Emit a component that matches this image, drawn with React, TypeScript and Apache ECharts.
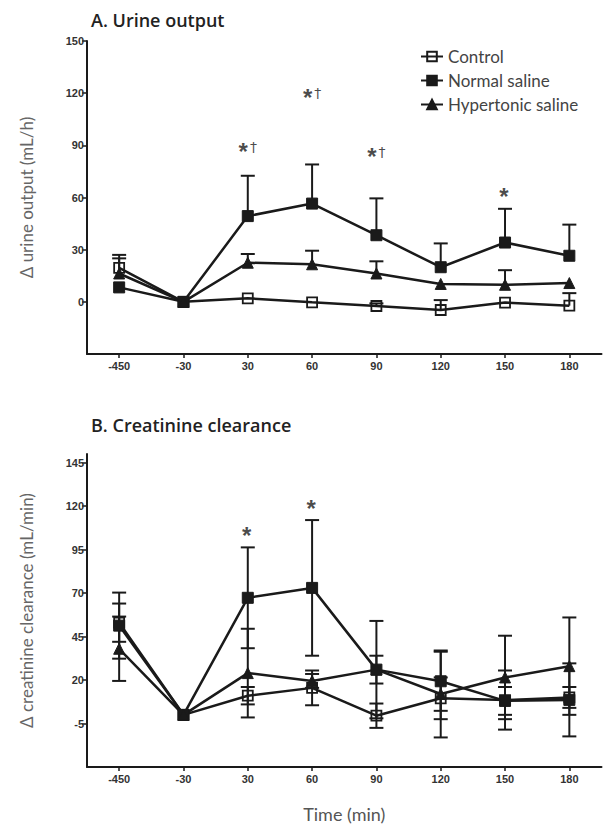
import React, { useEffect, useRef } from "react";
import * as echarts from "echarts";

const categories = ["-450", "-30", "30", "60", "90", "120", "150", "180"];

// A. Urine output (mean, upper error)
const urineControl = [19.5, 0, 2.0, -0.3, -2.4, -4.7, -0.4, -2.2];
const urineControlErr = [5.5, 0, 0, 0, 1.5, 5.7, 0, 7.2];
const urineNormal = [8.3, 0, 49.3, 56.5, 38.3, 19.9, 34.1, 26.5];
const urineNormalErr = [0, 0, 23.2, 22.5, 21.2, 13.7, 19.4, 17.9];
const urineHyper = [16.3, 0, 22.5, 21.6, 16.3, 10.3, 9.8, 10.8];
const urineHyperErr = [10.7, 0, 5.0, 7.8, 7.0, 0, 8.4, 0];

// B. Creatinine clearance (mean ± SD)
const ccControl = [53, 0, 11, 15.5, -0.5, 9.5, 8.5, 10];
const ccControlSd = [11, 0, 5, 10, 7, 12, 17, 6];
const ccNormal = [51.3, 0, 67.3, 73, 26, 19.3, 8, 8.6];
const ccNormalSd = [19, 0, 29, 39, 28, 17, 8, 21];
const ccHyper = [38, 0, 24, 19.5, 26, 12, 21.5, 28];
const ccHyperSd = [18.5, 0, 25.5, 4, 8, 25, 24, 28];

// significance annotations
const urineAnnotIdx = [2, 3, 4, 6];
const urineAnnotY = [89, 120, 86, 63];
const urineAnnotText = ["{s|*}{d|†}", "{s|*}{d|†}", "{s|*}{d|†}", "{s|*}"];
const ccAnnotIdx = [2, 3];
const ccAnnotY = [106, 121];
const ccAnnotText = ["{s|*}", "{s|*}"];

const urineTicks = [0, 30, 60, 90, 120, 150];
const ccTicks = [-5, 20, 45, 70, 95, 120, 145];

const INK = "#1a1a1a";

function errSeries(axisIdx: number, lo: number[], hi: number[], twoSided: boolean) {
  const data = categories.map((_, i) => [i, lo[i], hi[i]]);
  return {
    type: "custom",
    xAxisIndex: axisIdx,
    yAxisIndex: axisIdx,
    z: 2,
    silent: true,
    color: INK,
    renderItem: (params: any, api: any) => {
      const i = api.value(0);
      const l = api.value(1);
      const h = api.value(2);
      if (h - l < 0.01) return { type: "group", children: [] };
      const pHi = api.coord([i, h]);
      const pLo = api.coord([i, l]);
      const hw = 7;
      const st = { stroke: INK, lineWidth: 2 };
      const children: any[] = [
        { type: "line", shape: { x1: pHi[0], y1: pHi[1], x2: pLo[0], y2: pLo[1] }, style: st },
        { type: "line", shape: { x1: pHi[0] - hw, y1: pHi[1], x2: pHi[0] + hw, y2: pHi[1] }, style: st },
      ];
      if (twoSided) {
        children.push({ type: "line", shape: { x1: pLo[0] - hw, y1: pLo[1], x2: pLo[0] + hw, y2: pLo[1] }, style: st });
      }
      return { type: "group", children };
    },
    data,
  };
}

function lineSeries(name: string, axisIdx: number, values: number[], kind: "open" | "filled" | "tri") {
  const symbol = kind === "tri" ? "triangle" : "rect";
  const size = kind === "tri" ? 11 : kind === "filled" ? 11 : 10;
  return {
    type: "line",
    name,
    xAxisIndex: axisIdx,
    yAxisIndex: axisIdx,
    z: 3,
    color: INK,
    data: values,
    symbol,
    symbolSize: size,
    showAllSymbol: true,
    lineStyle: { color: INK, width: 2.5 },
    itemStyle:
      kind === "open"
        ? { color: "rgba(255,255,255,0)", borderColor: INK, borderWidth: 1.8 }
        : { color: INK, borderColor: INK, borderWidth: 1 },
  };
}

function annotSeries(axisIdx: number, idx: number[], ys: number[], texts: string[]) {
  return {
    type: "scatter",
    xAxisIndex: axisIdx,
    yAxisIndex: axisIdx,
    symbolSize: 1,
    itemStyle: { color: "rgba(0,0,0,0)" },
    silent: true,
    data: idx.map((i, k) => ({ value: [i, ys[k]], label: { formatter: texts[k] } })),
    label: {
      show: true,
      position: "inside",
      rich: {
        s: { fontSize: 24, fontWeight: "bold", color: INK, fontFamily: "Liberation Sans", padding: [9, 2, 0, 0] },
        d: { fontSize: 14, color: INK, fontFamily: "DejaVu Sans" },
      },
    },
  };
}

const axisLabelStyle = {
  fontFamily: "Liberation Sans",
  fontWeight: "bold",
  fontSize: 11,
  color: "#333",
};

export default function App() {
  const ref = useRef<HTMLDivElement>(null);
  useEffect(() => {
    if (!ref.current) return;
    const chart = echarts.init(ref.current, null, { renderer: "svg" });
    const xAxisBase = {
      type: "category",
      data: categories,
      boundaryGap: true,
      axisLine: { onZero: false, lineStyle: { color: INK, width: 2 } },
      axisTick: { show: true, alignWithLabel: true, length: 4, lineStyle: { color: INK, width: 1.5 } },
      axisLabel: { ...axisLabelStyle, margin: 6 },
      splitLine: { show: false },
    };
    const yAxisBase = {
      type: "value",
      min: -30,
      max: 150,
      axisLine: { show: true, lineStyle: { color: INK, width: 2 } },
      axisTick: { show: true, length: 5, lineStyle: { color: INK, width: 1.5 } },
      splitLine: { show: false },
      nameLocation: "middle",
      nameRotate: 90,
      nameTextStyle: { fontFamily: "Lato", fontSize: 17, color: "#666" },
    };
    chart.setOption({
      animation: false,
      backgroundColor: "#fff",
      title: [
        {
          text: "A. Urine output",
          left: 86,
          top: 6,
          textStyle: { fontFamily: "Open Sans", fontWeight: 600, fontSize: 18, color: "#222" },
        },
        {
          text: "B. Creatinine clearance",
          left: 86,
          top: 411,
          textStyle: { fontFamily: "Open Sans", fontWeight: 600, fontSize: 18, color: "#222" },
        },
      ],
      legend: {
        orient: "vertical",
        left: 415,
        top: 43,
        itemWidth: 22,
        itemHeight: 12,
        itemGap: 7,
        data: ["Control", "Normal saline", "Hypertonic saline"],
        textStyle: { fontFamily: "Lato", fontSize: 17, color: "#444", padding: [0, 0, 0, 0] },
      },
      grid: [
        { left: 87, right: 11.5, top: 41, height: 313 },
        { left: 87, right: 11.5, top: 454, height: 313 },
      ],
      xAxis: [
        { ...xAxisBase, gridIndex: 0 },
        {
          ...xAxisBase,
          gridIndex: 1,
          name: "Time (min)",
          nameLocation: "middle",
          nameGap: 38,
          nameTextStyle: { fontFamily: "Lato", fontSize: 18, color: "#555" },
        },
      ],
      yAxis: [
        {
          ...yAxisBase,
          gridIndex: 0,
          name: "Δ urine output (mL/h)",
          nameGap: 52,
          axisLabel: { ...axisLabelStyle, margin: 3, customValues: urineTicks },
          axisTick: { ...yAxisBase.axisTick, customValues: urineTicks },
        },
        {
          ...yAxisBase,
          gridIndex: 1,
          name: "Δ creatinine clearance (mL/min)",
          nameGap: 52,
          axisLabel: { ...axisLabelStyle, margin: 3, customValues: ccTicks },
          axisTick: { ...yAxisBase.axisTick, customValues: ccTicks },
        },
      ],
      series: [
        lineSeries("Control", 0, urineControl, "open"),
        lineSeries("Normal saline", 0, urineNormal, "filled"),
        lineSeries("Hypertonic saline", 0, urineHyper, "tri"),
        lineSeries("Control", 1, ccControl, "open"),
        lineSeries("Normal saline", 1, ccNormal, "filled"),
        lineSeries("Hypertonic saline", 1, ccHyper, "tri"),
        errSeries(0, urineControl, urineControl.map((v, i) => v + urineControlErr[i]), false),
        errSeries(0, urineNormal, urineNormal.map((v, i) => v + urineNormalErr[i]), false),
        errSeries(0, urineHyper, urineHyper.map((v, i) => v + urineHyperErr[i]), false),
        errSeries(1, ccControl.map((v, i) => v - ccControlSd[i]), ccControl.map((v, i) => v + ccControlSd[i]), true),
        errSeries(1, ccNormal.map((v, i) => v - ccNormalSd[i]), ccNormal.map((v, i) => v + ccNormalSd[i]), true),
        errSeries(1, ccHyper.map((v, i) => v - ccHyperSd[i]), ccHyper.map((v, i) => v + ccHyperSd[i]), true),
        annotSeries(0, urineAnnotIdx, urineAnnotY, urineAnnotText),
        annotSeries(1, ccAnnotIdx, ccAnnotY, ccAnnotText),
      ],
    });
    return () => chart.dispose();
  }, []);
  return <div ref={ref} style={{ width: 613, height: 831, position: "absolute", left: 0, top: 0 }} />;
}
